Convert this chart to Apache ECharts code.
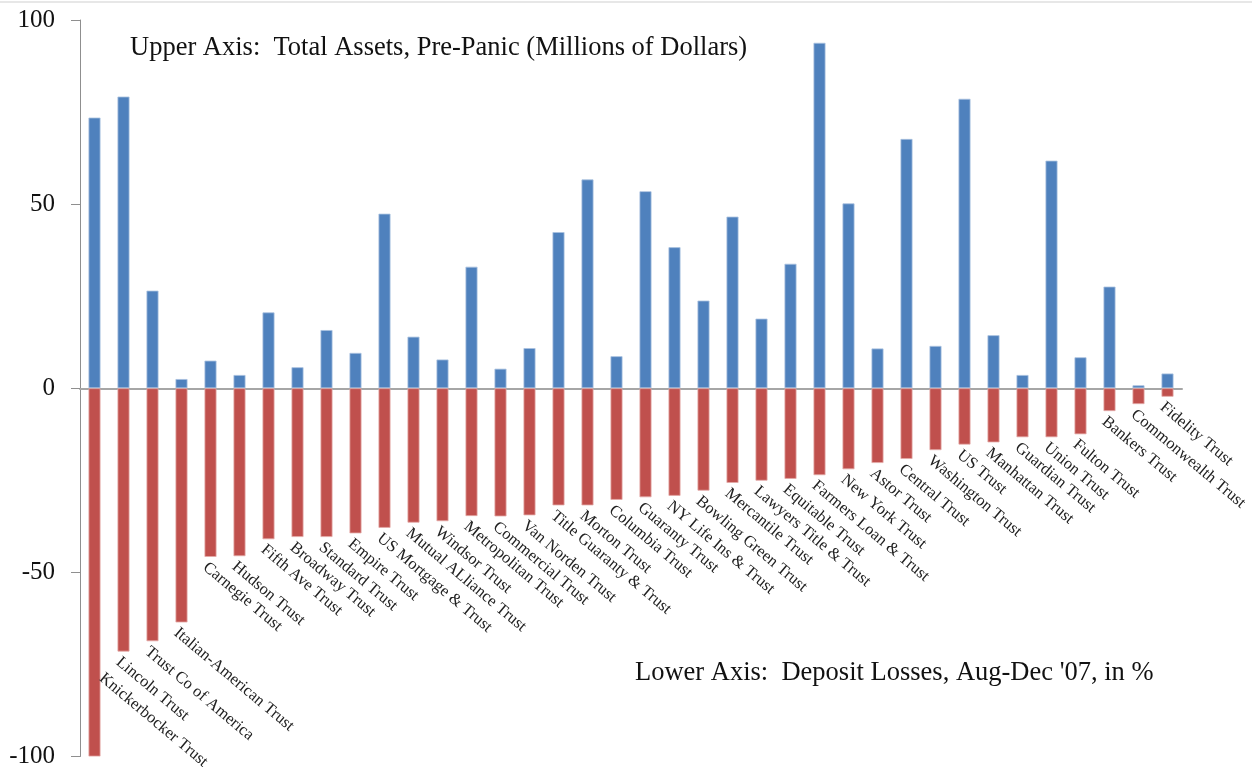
<!DOCTYPE html>
<html><head><meta charset="utf-8">
<script src="https://cdn.jsdelivr.net/npm/echarts@6/dist/echarts.min.js"></script>
<style>html,body{margin:0;padding:0;background:#fff}#c{width:1252px;height:769px}</style>
</head><body><div id="c"></div>
<script>
const categories = ["Knickerbocker Trust","Lincoln Trust","Trust Co of America","Italian-American Trust","Carnegie Trust","Hudson Trust","Fifth Ave Trust","Broadway Trust","Standard Trust","Empire Trust","US Mortgage & Trust","Mutual ALliance Trust","Windsor Trust","Metropolitan Trust","Commercial Trust","Van Norden Trust","Title Guaranty & Trust","Morton Trust","Columbia Trust","Guaranty Trust","NY Life Ins & Trust","Bowling Green Trust","Mercantile Trust","Lawyers Title & Trust","Equitable Trust","Farmers Loan & Trust","New York Trust","Astor Trust","Central Trust","Washington Trust","US Trust","Manhattan Trust","Guardian Trust","Union Trust","Fulton Trust","Bankers Trust","Commonwealth Trust","Fidelity Trust"];
const totalAssets = [73.5,79.2,26.5,2.5,7.5,3.6,20.6,5.7,15.8,9.6,47.4,14.0,7.8,33.0,5.3,10.9,42.4,56.7,8.7,53.5,38.3,23.8,46.6,18.9,33.8,93.8,50.2,10.8,67.7,11.5,78.6,14.4,3.6,61.8,8.4,27.6,0.8,4.0];
const depositLosses = [-100,-71.5,-68.7,-63.6,-45.8,-45.6,-41.0,-40.4,-40.4,-39.4,-37.9,-36.5,-36.1,-34.7,-34.8,-34.5,-31.8,-31.8,-30.3,-29.6,-29.2,-27.8,-25.7,-25.1,-24.6,-23.6,-22.0,-20.3,-19.2,-16.8,-15.3,-14.7,-13.3,-13.3,-12.5,-6.2,-4.3,-2.3];
const yTicks = [-100,-50,0,50,100];
const upperText = "Upper Axis:  Total Assets, Pre-Panic (Millions of Dollars)";
const lowerText = "Lower Axis:  Deposit Losses, Aug-Dec '07, in %";

const serif = "'Liberation Serif','Times New Roman',serif";
const redData = depositLosses.map((v,i)=> i===0 ? {value:v,label:{position:['100%','75%'],offset:[8,0]}} : v);

const chart = echarts.init(document.getElementById('c'));
chart.setOption({
  animation:false,
  backgroundColor:'#fff',
  grid:{left:80,right:70,top:20,bottom:10},
  xAxis:{type:'category',data:categories,
    axisLine:{onZero:true,lineStyle:{color:'#a6a6a6',width:2}},
    axisTick:{show:false},axisLabel:{show:false},splitLine:{show:false}},
  yAxis:{type:'value',min:yTicks[0],max:yTicks[yTicks.length-1],interval:50,
    axisLine:{show:true,onZero:false,lineStyle:{color:'#8f8f8f',width:1}},
    axisTick:{show:true,length:9,lineStyle:{color:'#8f8f8f'}},
    splitLine:{show:false},
    axisLabel:{margin:25,fontFamily:serif,fontSize:25,color:'#111'}},
  series:[
    {type:'bar',name:'Total Assets',data:totalAssets,barWidth:12,barGap:'-100%',
     itemStyle:{color:'#4F81BD',borderColor:'#a9c1e0',borderWidth:0.8}},
    {type:'bar',name:'Deposit Losses',data:redData,barWidth:12,
     itemStyle:{color:'#C0504D',borderColor:'#e3a9a7',borderWidth:0.8},
     label:{show:true,position:'bottom',distance:2,rotate:-40,align:'left',verticalAlign:'top',
       fontFamily:serif,fontSize:16.5,color:'#222',
       formatter:p=>categories[p.dataIndex]}}
  ],
  graphic:[
    {type:'line',shape:{x1:0,y1:2,x2:1252,y2:2},style:{stroke:'#cfcfcf',lineWidth:1}},
    {type:'text',left:130,top:35,style:{text:upperText,font:"26.5px "+serif,fill:'#111'}},
    {type:'text',left:635,top:660,style:{text:lowerText,font:"26.5px "+serif,fill:'#111'}}
  ]
});
</script></body></html>
